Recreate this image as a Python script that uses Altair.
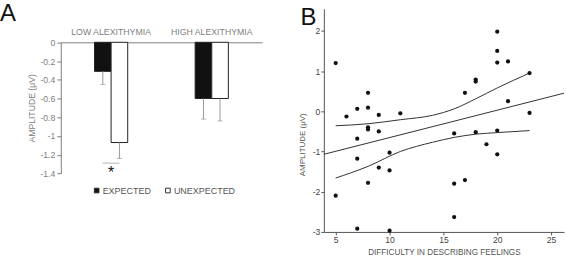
import altair as alt
import pandas as pd

FONT = "Liberation Sans"

# ---------------- Panel A data ----------------
group_order = ["LOW ALEXITHYMIA", "HIGH ALEXITHYMIA"]
cond_order = ["EXPECTED", "UNEXPECTED"]
groups = ["LOW ALEXITHYMIA", "LOW ALEXITHYMIA", "HIGH ALEXITHYMIA", "HIGH ALEXITHYMIA"]
conditions = ["EXPECTED", "UNEXPECTED", "EXPECTED", "UNEXPECTED"]
amplitude = [-0.31, -1.07, -0.60, -0.60]
amplitude_lo = [-0.45, -1.24, -0.82, -0.84]
a_ticks = [0, -0.2, -0.4, -0.6, -0.8, -1, -1.2, -1.4]
sig_group = ["LOW ALEXITHYMIA"]
sig_y = [-1.29]
sig_text = ["*"]

# ---------------- Panel B data ----------------
difficulty = [5, 5, 6, 7, 7, 7, 7, 8, 8, 8, 8, 8, 9, 9, 9, 10, 10, 10, 11,
              16, 16, 16, 17, 17, 18, 18, 18, 19, 20, 20, 20, 20, 20, 21, 21, 23, 23]
amp_b = [1.2, -2.1, -0.13, 0.06, -0.68, -1.18, -2.92, 0.46, 0.09, -0.4, -0.45, -1.78,
         -0.09, -0.5, -1.4, -1.03, -1.47, -2.97, -0.05,
         -0.55, -1.8, -2.63, 0.46, -1.71, 0.79, 0.74, -0.52, -0.82, 1.98, 1.5, 1.21,
         -0.48, -1.07, 1.24, 0.25, 0.95, -0.04]
fit_x = [3.9, 26.2]
fit_y = [-1.07, 0.45]
ci_x = [5, 8, 11, 14, 16, 18, 20, 23]
ci_upper = [-0.36, -0.31, -0.21, -0.1, 0.06, 0.31, 0.58, 0.95]
ci_lower = [-1.66, -1.37, -1.0, -0.77, -0.65, -0.57, -0.53, -0.48]
b_xticks = [5, 10, 15, 20, 25]
b_yticks = [-3, -2, -1, 0, 1, 2]

GRAY = "#808080"
A_TOP = 33.7      # gap between shared row top and panel A's zero line
A_H = 165.3       # panel A view height (row aligned with panel B)

# ---------------- Panel A ----------------
dfA = pd.DataFrame({"group": groups, "cond": conditions, "amp": amplitude, "lo": amplitude_lo})
dfS = pd.DataFrame({"group": sig_group, "amp": sig_y, "star": sig_text})

xA = alt.X("group:N", sort=group_order,
           scale=alt.Scale(domain=group_order, paddingInner=0.67, paddingOuter=0.335),
           axis=alt.Axis(orient="top", title=None, ticks=False, labelAngle=0, labelPadding=6,
                         offset=-A_TOP, labelFontSize=8.8, labelColor=GRAY, domainColor=GRAY,
                         labelFont=FONT))


def yA(field):
    return alt.Y(f"{field}:Q", scale=alt.Scale(domain=[-1.4, 0], nice=False, range=[A_H, A_TOP]),
                 axis=alt.Axis(values=a_ticks, labelExpr="'' + datum.value", title="AMPLITUDE (μV)",
                               grid=False, tickSize=4, labelPadding=2, labelFontSize=8.7,
                               labelColor=GRAY, tickColor=GRAY, domainColor=GRAY,
                               titleColor=GRAY, titleFontSize=8.7, titleFontWeight="normal",
                               titlePadding=3, labelFont=FONT, titleFont=FONT))


xoff = alt.XOffset("cond:N", sort=cond_order, scale=alt.Scale(domain=cond_order, paddingInner=0, paddingOuter=0))

bars = alt.Chart(dfA).mark_bar(stroke="#222222", strokeWidth=1).encode(
    x=xA, xOffset=xoff, y=yA("amp"),
    fill=alt.Fill("cond:N", scale=alt.Scale(domain=cond_order, range=["#111111", "#ffffff"]),
                  legend=alt.Legend(title=None, orient="none", legendX=31.5, legendY=144 + A_TOP,
                                    direction="horizontal", symbolType="square", symbolSize=22,
                                    symbolStrokeColor="#333333", symbolStrokeWidth=1,
                                    labelFont=FONT, labelFontSize=9, labelColor="#555555",
                                    labelOffset=1.5, columnPadding=11.5, padding=0))
)
err = alt.Chart(dfA).mark_rule(color="#999999", strokeWidth=1).encode(
    x=xA, xOffset=xoff, y=yA("amp"), y2="lo:Q")
caps = alt.Chart(dfA).mark_tick(color="#999999", size=5, thickness=1).encode(
    x=xA, xOffset=xoff, y=yA("lo"))
sig = alt.Chart(dfS).mark_tick(color="#999999", size=17, thickness=1).encode(x=xA, y=yA("amp"))
star = alt.Chart(dfS).mark_text(fontSize=16, baseline="top", dy=2, font=FONT, color="#111111").encode(
    x=xA, y=yA("amp"), text="star:N")
letA = alt.Chart(pd.DataFrame({"t": ["A"]})).mark_text(
    fontSize=24, align="left", baseline="top", font=FONT, color="#111111").encode(
    x=alt.value(-61), y=alt.value(-6.5), text="t:N")

panelA = alt.layer(bars, err, caps, sig, star, letA).properties(width=202, height=A_H)

# ---------------- Panel B ----------------
dfP = pd.DataFrame({"x": difficulty, "y": amp_b})
dfF = pd.DataFrame({"x": fit_x, "y": fit_y})
dfC = pd.DataFrame({"x": ci_x + ci_x, "y": ci_upper + ci_lower,
                    "band": ["upper"] * len(ci_x) + ["lower"] * len(ci_x)})

xB = alt.X("x:Q", scale=alt.Scale(domain=[3.9, 26.2], nice=False, zero=False),
           axis=alt.Axis(values=b_xticks, title="DIFFICULTY IN DESCRIBING FEELINGS", grid=False,
                         tickSize=3, labelPadding=1, labelFontSize=8.6, labelColor="#444444",
                         tickColor="#555555", domainColor="#555555", titleColor="#555555",
                         titleFontSize=8.2, titleFontWeight="normal", titlePadding=4,
                         labelFont=FONT, titleFont=FONT, labelFlush=False))
yB = alt.Y("y:Q", scale=alt.Scale(domain=[-3, 2.55], nice=False, zero=False),
           axis=alt.Axis(values=b_yticks, labelExpr="'' + datum.value", title="AMPLITUDE (μV)",
                         grid=False, tickSize=3, labelPadding=1, labelFontSize=8.6,
                         labelColor="#444444", tickColor="#555555", domainColor="#555555",
                         titleColor="#555555", titleFontSize=8, titleFontWeight="normal",
                         titlePadding=5.5, titleY=136, labelFont=FONT, titleFont=FONT,
                         labelFlush=False))

pts = alt.Chart(dfP).mark_circle(size=18, color="#111111", opacity=1).encode(x=xB, y=yB)
fit = alt.Chart(dfF).mark_line(color="#333333", strokeWidth=1).encode(x=xB, y=yB)
ci = alt.Chart(dfC).mark_line(color="#333333", strokeWidth=1, interpolate="monotone").encode(
    x=xB, y=yB, detail="band:N")
letB = alt.Chart(pd.DataFrame({"t": ["B"]})).mark_text(
    fontSize=24, align="left", baseline="top", font=FONT, color="#111111").encode(
    x=alt.value(-23.5), y=alt.value(-3.1), text="t:N")

panelB = alt.layer(ci, fit, pts, letB).properties(width=241, height=224)

chart = alt.hconcat(panelA, panelB, spacing=36).properties(
    padding={"left": 0, "top": 1.3, "right": 0, "bottom": 0},
    background="white",
).configure_view(stroke=None)

chart.save("out.html", embed_options={"renderer": "svg", "actions": False})
